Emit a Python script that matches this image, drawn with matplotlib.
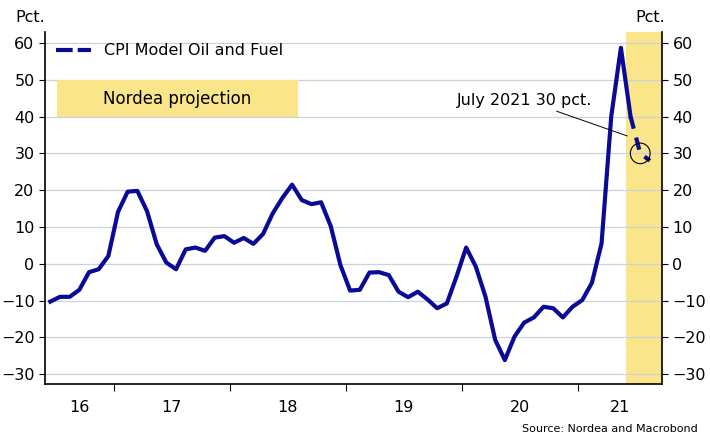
import numpy as np
import matplotlib.pyplot as plt
from matplotlib.patches import Ellipse, Rectangle

# Monthly values, Jun 2016 .. Jun 2021 (actual), Jun 2021 .. Aug 2021 (projection)
start_year, start_month = 2016, 6
actual = [
    -10.3, -9.0, -9.0, -7.1, -2.3, -1.5, 2.1, 14.1, 19.6, 19.8, 14.3, 5.3,
    0.3, -1.5, 3.9, 4.4, 3.5, 7.1, 7.5, 5.7, 7.0, 5.4, 8.1, 13.7,
    17.9, 21.5, 17.3, 16.2, 16.7, 10.2, -0.4, -7.3, -7.1, -2.4, -2.3,
    -3.1, -7.6, -9.1, -7.6, -9.7, -12.1, -10.8, -3.5,
    4.4, -0.8, -9.0, -20.7, -26.2, -19.8, -16.0, -14.6, -11.7, -12.1, -14.6, -11.7,
    -9.9, -5.2, 5.5, 40.0, 58.7, 40.0,
]
projection = [40.0, 30.0, 28.0]
yticks = [-30, -20, -10, 0, 10, 20, 30, 40, 50, 60]
years = [2016, 2017, 2018, 2019, 2020, 2021]

def month_pos(i):
    m = start_month - 1 + i
    return start_year + (m + 0.45) / 12

x_act = np.array([month_pos(i) for i in range(len(actual))])
x_proj = np.array([month_pos(len(actual) - 1 + i) for i in range(len(projection))])

blue = "#0a0a96"
fig = plt.figure(figsize=(7.1, 4.48), dpi=100)
ax = fig.add_axes([45 / 710, 64 / 448, 617 / 710, 352 / 448])
xmin, xmax = 2016 + 4.9 / 12, 2021 + 8.7 / 12
ax.set_xlim(xmin, xmax)
ax.set_ylim(-32.7, 63)

ax.axvspan(2021 + 5 / 12, xmax, color="#fae58a", zorder=0, lw=0)
for y in yticks:
    ax.axhline(y, color="#c8d4dc", lw=0.9, zorder=1)

ax.plot(x_act, actual, color=blue, lw=3, zorder=3, solid_joinstyle="round",
        label="CPI Model Oil and Fuel")
ax.plot(x_proj, projection, color=blue, lw=3, ls=(0, (3, 2.2)), zorder=3)

# circle around July 2021 value
ax.add_patch(Ellipse((x_proj[1], projection[1]), width=0.17, height=5.6,
                     fill=False, ec="black", lw=0.8, zorder=4))
ax.annotate("July 2021 30 pct.", xy=(x_proj[1] - 0.09, 34.5),
            xytext=(2021 + 1.5 / 12, 44.5), ha="right", va="center",
            fontsize=11.5, arrowprops=dict(arrowstyle="-", color="black", lw=0.7))

ax.add_patch(Rectangle((0.019, 0.759), 0.391, 0.105, transform=ax.transAxes,
                       fc="#fae58a", ec="none", zorder=2))
ax.text(0.2145, 0.811, "Nordea projection", transform=ax.transAxes, fontsize=12,
        va="center", ha="center", zorder=3)
leg = ax.legend(loc="upper left", bbox_to_anchor=(0.0, 1.0), frameon=False,
                fontsize=11.5, handlelength=2.2, borderaxespad=0.3)
leg.get_lines()[0].set_linestyle((0, (4, 1.2)))

ax.set_yticks(yticks)
ax.tick_params(axis="y", which="both", labelsize=11.5, labelright=True, right=True,
               direction="out", length=4)
ax.spines["top"].set_visible(False)
for s in ["left", "right", "bottom"]:
    ax.spines[s].set_linewidth(1.2)

# year boundaries as ticks, year labels centered in visible span
ax.set_xticks([2017, 2018, 2019, 2020, 2021])
ax.set_xticklabels([])
ax.tick_params(axis="x", direction="out", length=5)
for yr in years:
    lo, hi = max(yr, xmin), min(yr + 1, xmax)
    ax.text((lo + hi) / 2, -0.045, str(yr)[2:], transform=ax.get_xaxis_transform(),
            ha="center", va="top", fontsize=11.5)

fig.text(15 / 710, 1 - 18 / 448, "Pct.", fontsize=11.5, va="center", ha="left")
fig.text(665 / 710, 1 - 18 / 448, "Pct.", fontsize=11.5, va="center", ha="right")
fig.text(698 / 710, 1 - 429 / 448, "Source: Nordea and Macrobond", fontsize=8,
         va="center", ha="right")
fig.savefig("out.png", dpi=100)
